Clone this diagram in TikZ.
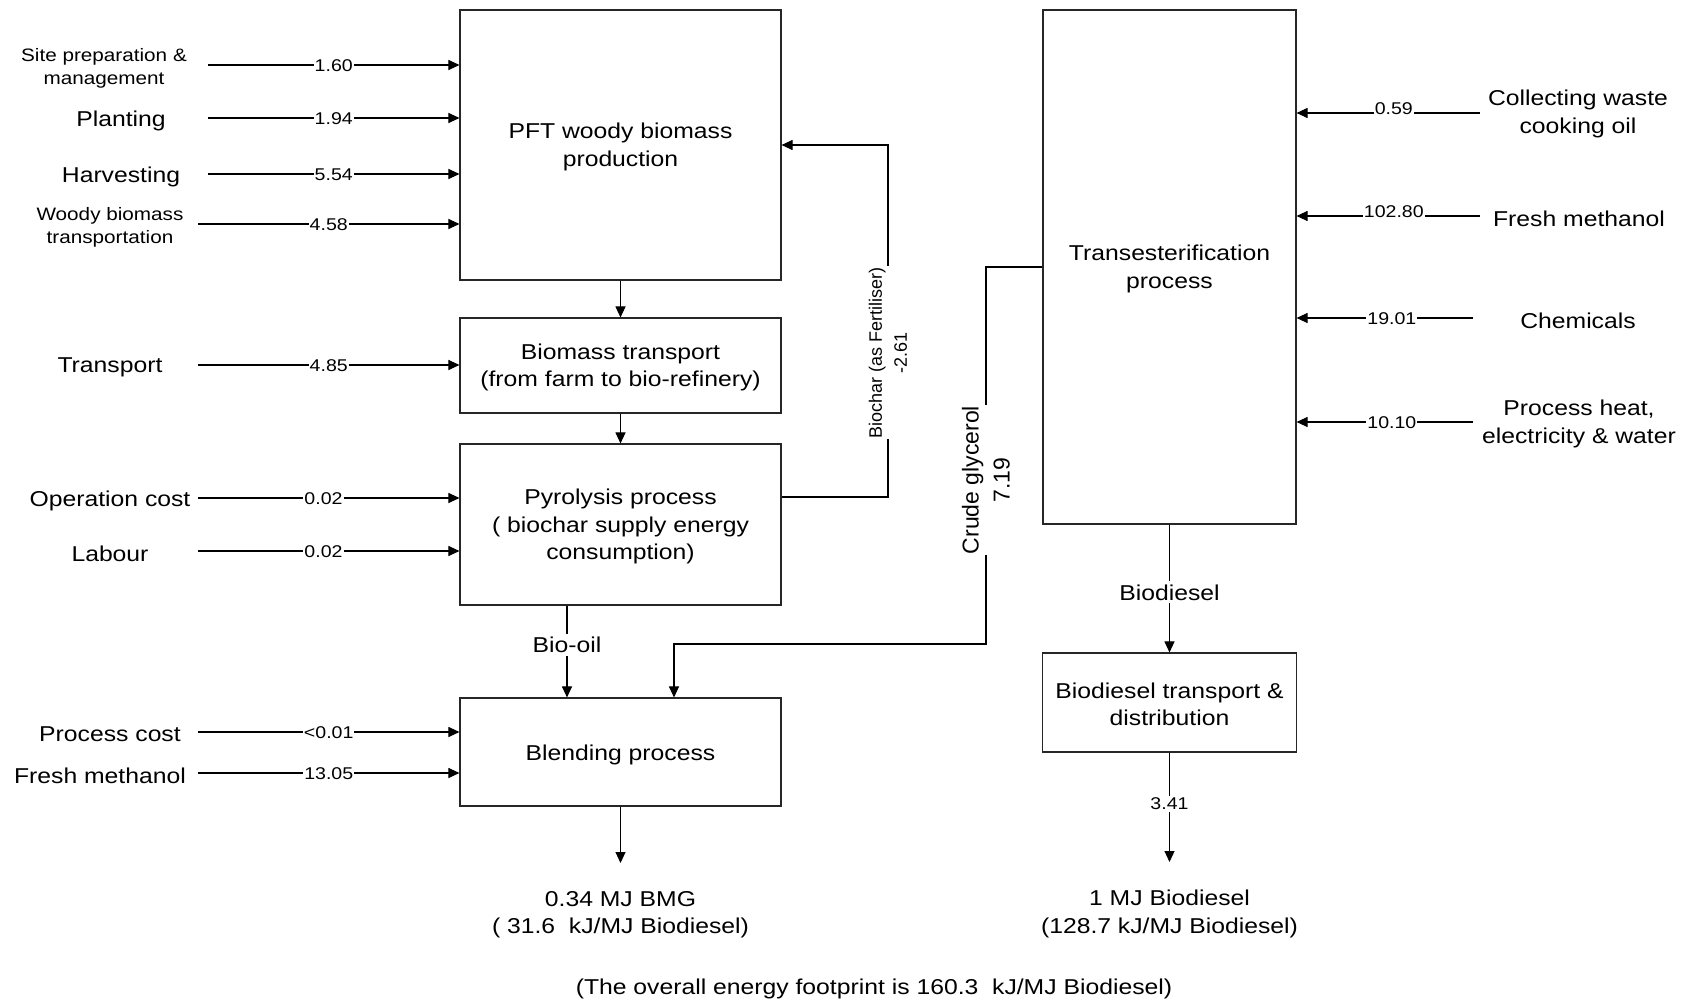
\documentclass[tikz,border=0pt]{standalone}
\usepackage{fontspec}
\setmainfont[FakeStretch=1.15]{Liberation Sans}
\newfontfamily\rotfont{Liberation Sans}
\usetikzlibrary{arrows.meta}
\begin{document}
\begin{tikzpicture}[x=1pt,y=-1pt,
  box/.style={draw=black!85, line width=1.1pt, inner sep=0pt},
  conn/.style={draw=black, line width=1.05pt},
  arr/.style={conn, -{Triangle[length=11pt,width=10pt]}},
  big/.style={font=\fontsize{21.5}{27.5}\selectfont, align=center, inner sep=1pt},
  small/.style={font=\fontsize{18}{23}\selectfont, align=center, inner sep=1pt},
  val/.style={font=\fontsize{17}{20}\selectfont, fill=white, inner xsep=1pt, inner ysep=2pt, yshift=-1pt},
  lab/.style={font=\fontsize{21.5}{27.5}\selectfont, fill=white, inner xsep=1pt, inner ysep=3pt},
]
\useasboundingbox (0,0) rectangle (1692,1003);

% boxes
\node[box, minimum width=321pt, minimum height=270pt] (pft) at (620.5,145) {};
\node[box, minimum width=321pt, minimum height=95pt] (bt) at (620.5,365.5) {};
\node[box, minimum width=321pt, minimum height=161pt] (pyr) at (620.5,524.5) {};
\node[box, minimum width=321pt, minimum height=108pt] (blend) at (620.5,752) {};
\node[box, minimum width=253pt, minimum height=514pt] (trans) at (1169.5,267) {};
\node[box, minimum width=254pt, minimum height=99pt] (bdt) at (1169.5,702.5) {};

\node[big, yshift=-2pt] (pftt) at (pft.center) {PFT woody biomass\\production};
\node[big, yshift=-2pt] (btt) at (bt.center) {Biomass transport\\(from farm to bio-refinery)};
\node[big, yshift=-2pt] (pyrt) at (pyr.center) {Pyrolysis process\\( biochar supply energy\\consumption)};
\node[big, yshift=-3pt] (blendt) at (blend.center) {Blending process};
\node[big, yshift=-2pt] (transt) at (trans.center) {Transesterification\\process};
\node[big, yshift=-2pt] (bdtt) at (bdt.center) {Biodiesel transport \&\\distribution};

% left labels
\node[small] (l1) at (104,68) {Site preparation \&\\management};
\node[big] (l2) at (121,120.5) {Planting};
\node[big] (l3) at (121,176.5) {Harvesting};
\node[small] (l4) at (110,227) {Woody biomass\\transportation};
\node[big] (l5) at (110,367.5) {Transport};
\node[big] (l6) at (110,500.5) {Operation cost};
\node[big] (l7) at (110,553.5) {Labour};
\node[big] (l8) at (110,734.5) {Process cost};
\node[big] (l9) at (100,775.5) {Fresh methanol};

\coordinate (a1) at (208,65);
\coordinate (a2) at (208,118);
\coordinate (a3) at (208,174);
\coordinate (a4) at (198,224);
\coordinate (a5) at (198,365);
\coordinate (a6) at (198,498);
\coordinate (a7) at (198,551);
\coordinate (a8) at (198,732);
\coordinate (a9) at (198,773);

\draw[arr] (a1) -- node[val]{1.60} (a1 -| pft.west);
\draw[arr] (a2) -- node[val]{1.94} (a2 -| pft.west);
\draw[arr] (a3) -- node[val]{5.54} (a3 -| pft.west);
\draw[arr] (a4) -- node[val]{4.58} (a4 -| pft.west);
\draw[arr] (a5) -- node[val]{4.85} (a5 -| bt.west);
\draw[arr] (a6) -- node[val,pos=.48]{0.02} (a6 -| pyr.west);
\draw[arr] (a7) -- node[val,pos=.48]{0.02} (a7 -| pyr.west);
\draw[arr] (a8) -- node[val]{<0.01} (a8 -| blend.west);
\draw[arr] (a9) -- node[val]{13.05} (a9 -| blend.west);

% right labels
\node[big] (r1) at (1578,114) {Collecting waste\\cooking oil};
\node[big] (r2) at (1579,218.5) {Fresh methanol};
\node[big] (r3) at (1578,320.5) {Chemicals};
\node[big] (r4) at (1579,424) {Process heat,\\electricity \& water};

\coordinate (b1) at (1480,113);
\coordinate (b2) at (1480,216);
\coordinate (b3) at (1473,318);
\coordinate (b4) at (1473,422);

\draw[arr] (b1) -- node[val,pos=.47,yshift=5pt]{0.59} (b1 -| trans.east);
\draw[arr] (b2) -- node[val,pos=.47,yshift=5pt]{102.80} (b2 -| trans.east);
\draw[arr] (b3) -- node[val,pos=.46]{19.01} (b3 -| trans.east);
\draw[arr] (b4) -- node[val,pos=.46]{10.10} (b4 -| trans.east);

% main flow
\draw[arr] (pft.south) -- (bt.north);
\draw[arr] (bt.south) -- (pyr.north);
\draw[arr] ([xshift=-53.5pt]pyr.south) -- node[lab,pos=.43]{Bio-oil} ([xshift=-53.5pt]blend.north);

% biochar loop
\coordinate (bc1) at (888,497);
\coordinate (bc2) at (888,145);
\draw[arr] (pyr.east |- bc1) -- (bc1) --
  node[pos=.41, fill=white, inner sep=1pt, rotate=90, align=center,
       font=\rotfont\fontsize{18}{25}\selectfont]{Biochar (as Fertiliser)\\-2.61}
  (bc2) -- (pft.east |- bc2);

% crude glycerol
\coordinate (cg1) at (986,267);
\coordinate (cg2) at (986,644);
\coordinate (cg3) at (674,644);
\draw[arr] (trans.west) -- (cg1) --
  node[pos=.565, fill=white, inner sep=1pt, rotate=90, align=center,
       font=\rotfont\fontsize{23}{31}\selectfont]{Crude glycerol\\7.19}
  (cg2) -- (cg3) -- (cg3 |- blend.north);

% biodiesel
\draw[arr] (trans.south) -- node[lab,pos=.53]{Biodiesel} (bdt.north);

% outputs
\coordinate (bmgtip) at (620.5,863);
\coordinate (bdtip) at (1169.5,862);
\draw[arr] (blend.south) -- (bmgtip);
\draw[arr] (bdt.south) -- node[val,pos=.46]{3.41} (bdtip);
\node[big] (bmg) at (620.5,914.5) {0.34 MJ BMG\\( 31.6\ \ kJ/MJ Biodiesel)};
\node[big] (bdo) at (1169.5,914) {1 MJ Biodiesel\\(128.7 kJ/MJ Biodiesel)};
\node[big] (total) at (874,988.5) {(The overall energy footprint is 160.3\ \ kJ/MJ Biodiesel)};
\end{tikzpicture}
\end{document}
